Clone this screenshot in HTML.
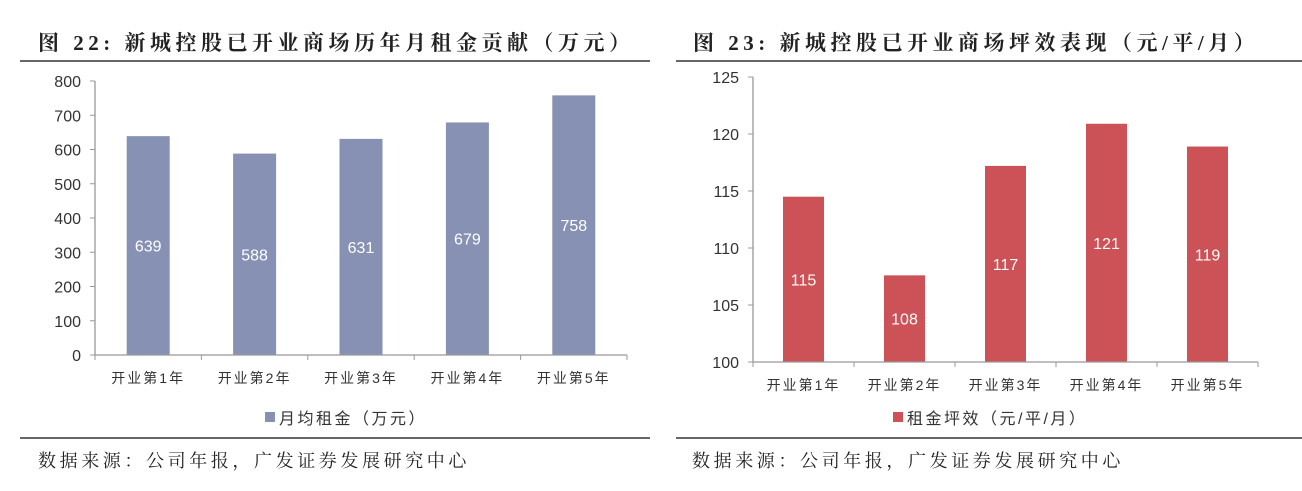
<!DOCTYPE html>
<html><head><meta charset="utf-8">
<style>
body{margin:0;background:#fff;width:1302px;height:486px;overflow:hidden;font-family:"Liberation Sans","Noto Sans CJK SC",sans-serif;}
svg text{font-family:"Liberation Sans","Noto Sans CJK SC",sans-serif;}
svg text.serif{font-family:"Liberation Serif","Noto Serif CJK SC",serif;}
</style></head>
<body>
<svg id="s" width="1302" height="486">
<text class="serif" x="38" y="50" font-size="21" font-weight="bold" letter-spacing="4.5" fill="#222">图 22: 新城控股已开业商场历年月租金贡献（万元）</text>
<line x1="20" y1="61" x2="650" y2="61" stroke="#333" stroke-width="1.5"/>
<text class="serif" x="693" y="50" font-size="21" font-weight="bold" letter-spacing="4.5" fill="#222">图 23: 新城控股已开业商场坪效表现（元/平/月）</text>
<line x1="676" y1="61" x2="1302" y2="61" stroke="#333" stroke-width="1.5"/>
<line x1="20" y1="438" x2="650" y2="438" stroke="#333" stroke-width="1.5"/>
<line x1="676" y1="438" x2="1302" y2="438" stroke="#333" stroke-width="1.5"/>
<text class="serif" x="38" y="467" font-size="18" letter-spacing="3.6" fill="#222">数据来源：公司年报，广发证券发展研究中心</text>
<text class="serif" x="692" y="467" font-size="18" letter-spacing="3.6" fill="#222">数据来源：公司年报，广发证券发展研究中心</text>
</svg>
<script>
const categories=["开业第1年","开业第2年","开业第3年","开业第4年","开业第5年"];
const rentValues=[639,588,631,679,758];
const rentLabels=["639","588","631","679","758"];
const rentTicks=[0,100,200,300,400,500,600,700,800];
const effValues=[114.5,107.6,117.2,120.9,118.9];
const effLabels=["115","108","117","121","119"];
const effTicks=[100,105,110,115,120,125];
const NS="http://www.w3.org/2000/svg";
const svg=document.getElementById('s');
function mk(tag,attrs,txt){const e=document.createElementNS(NS,tag);for(const k in attrs)e.setAttribute(k,attrs[k]);if(txt!==undefined)e.textContent=txt;svg.appendChild(e);return e;}
function draw(cfg,vals,labels,ticks,prefix){
  const ymin=ticks[0],ymax=ticks[ticks.length-1];
  const y=v=>cfg.bottom-(v-ymin)/(ymax-ymin)*(cfg.bottom-cfg.top);
  const bw=(cfg.right-cfg.left)/categories.length;
  const x=i=>cfg.left+bw*i;
  let e=mk('line',{x1:cfg.left,y1:cfg.top,x2:cfg.left,y2:cfg.bottom,stroke:'#999','stroke-width':1.3});
  
  
  ticks.forEach(t=>{
    const tl=mk('line',{x1:cfg.left-5,y1:y(t),x2:cfg.left,y2:y(t),stroke:'#999'});
    
    
    const tt=mk('text',{x:cfg.left-14,y:y(t)+6,'text-anchor':'end','font-size':16,fill:'#333'},String(t));
    
    
  });
  vals.forEach((v,i)=>{
    const cx=x(i)+bw/2,w=cfg.barW;
    const r=mk('rect',{x:cx-w/2,y:y(v),width:w,height:cfg.bottom-y(v),fill:cfg.color});
    
    
    const lt=mk('text',{x:cx,y:(y(v)+cfg.bottom)/2+6,'text-anchor':'middle','font-size':16,fill:'#fff'},labels[i]);
    
    
    const ct=mk('text',{x:cx,y:cfg.bottom+28,'text-anchor':'middle','font-size':14,'letter-spacing':2,fill:'#333'},categories[i]);
    
    
  });
  for(let i=0;i<=categories.length;i++){
    const tk=mk('line',{x1:x(i),y1:cfg.bottom,x2:x(i),y2:cfg.bottom+5,stroke:'#999'});
    
    
  }
  e=mk('line',{x1:cfg.left,y1:cfg.bottom,x2:cfg.right,y2:cfg.bottom,stroke:'#999','stroke-width':1.3});
  
  
  const lg=mk('rect',{x:cfg.legX,y:412,width:10,height:10,fill:cfg.color});
  
  
  const lgt=mk('text',{x:cfg.legX+14,y:424,'font-size':16,'letter-spacing':2.5,fill:'#333'},cfg.legend);
  
  
}
draw({left:95,right:627,top:81,bottom:355,barW:43,color:'#8691b4',legX:265,legend:'月均租金（万元）'},rentValues,rentLabels,rentTicks,'rent');
draw({left:753,right:1258,top:77,bottom:362,barW:41,color:'#cd5257',legX:893,legend:'租金坪效（元/平/月）'},effValues,effLabels,effTicks,'efficiency');
</script>
</body></html>
